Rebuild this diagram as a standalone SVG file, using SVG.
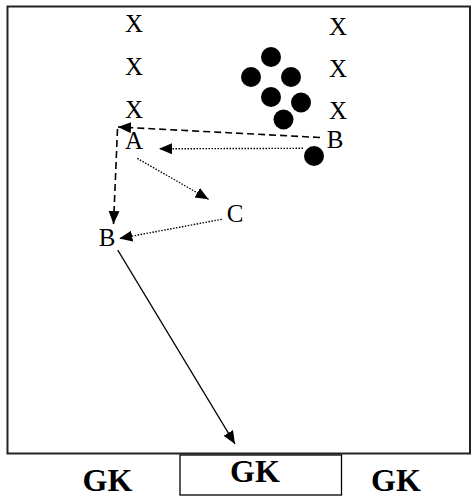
<svg xmlns="http://www.w3.org/2000/svg" width="471" height="497" viewBox="0 0 471 497">
<style>
.t{font-family:"Liberation Serif","Times New Roman",serif;font-size:25px;fill:#000;text-anchor:middle}
.gk{font-family:"Liberation Serif","Times New Roman",serif;font-size:32px;font-weight:bold;fill:#000;text-anchor:middle}
.dash{fill:none;stroke:#000;stroke-width:1.6;stroke-dasharray:7 4}
.dot{fill:none;stroke:#000;stroke-width:1.4;stroke-dasharray:1.5 1.5}
.solid{fill:none;stroke:#000;stroke-width:1.4}
.ball{fill:#000}
</style>
<defs>
<marker id="ah" markerUnits="userSpaceOnUse" markerWidth="14" markerHeight="12" refX="13" refY="5.5" orient="auto">
<path d="M0,0 L13,5.5 L0,11 z" fill="#000"/>
</marker>
</defs>
<rect x="0" y="0" width="471" height="497" fill="#fff"/>
<g id="field">
<rect x="7.5" y="6.5" width="462.5" height="447" fill="none" stroke="#222" stroke-width="2"/>
</g>
<g id="goal">
<rect x="180" y="455" width="161.5" height="40" fill="none" stroke="#000" stroke-width="1.3"/>
</g>
<g id="players-left">
<text class="t" x="134" y="32">X</text>
<text class="t" x="134" y="75">X</text>
<text class="t" x="134" y="118">X</text>
</g>
<g id="players-right">
<text class="t" x="338" y="35">X</text>
<text class="t" x="338" y="77">X</text>
<text class="t" x="338" y="119">X</text>
</g>
<g id="balls">
<circle class="ball" cx="271" cy="57" r="10"/>
<circle class="ball" cx="251" cy="77" r="10"/>
<circle class="ball" cx="291" cy="77" r="10"/>
<circle class="ball" cx="271" cy="97" r="10"/>
<circle class="ball" cx="301" cy="102.5" r="10"/>
<circle class="ball" cx="283.5" cy="119.5" r="10"/>
<circle class="ball" cx="314" cy="156" r="10"/>
</g>
<g id="node-A"><text class="t" x="134" y="149">A</text></g>
<g id="node-B-right"><text class="t" x="335" y="148">B</text></g>
<g id="node-C"><text class="t" x="235" y="221.5">C</text></g>
<g id="node-B-left"><text class="t" x="107" y="246">B</text></g>
<g id="gk-left"><text class="gk" x="107.5" y="490.5">GK</text></g>
<g id="gk-middle"><text class="gk" x="255" y="482">GK</text></g>
<g id="gk-right"><text class="gk" x="396" y="490.5">GK</text></g>
<g id="connectors">
<line class="dash" x1="320" y1="137.5" x2="118" y2="127" marker-end="url(#ah)"/>
<line class="dash" x1="117.5" y1="129" x2="113.5" y2="224" marker-end="url(#ah)"/>
<line class="dot" x1="303" y1="148.3" x2="159" y2="148.8" marker-end="url(#ah)"/>
<line class="dot" x1="137.3" y1="158.3" x2="208.5" y2="199.3" marker-end="url(#ah)"/>
<line class="dot" x1="221.7" y1="219.3" x2="119.3" y2="238.5" marker-end="url(#ah)"/>
<line class="solid" x1="117.7" y1="250" x2="235" y2="444" marker-end="url(#ah)"/>
</g>
</svg>
